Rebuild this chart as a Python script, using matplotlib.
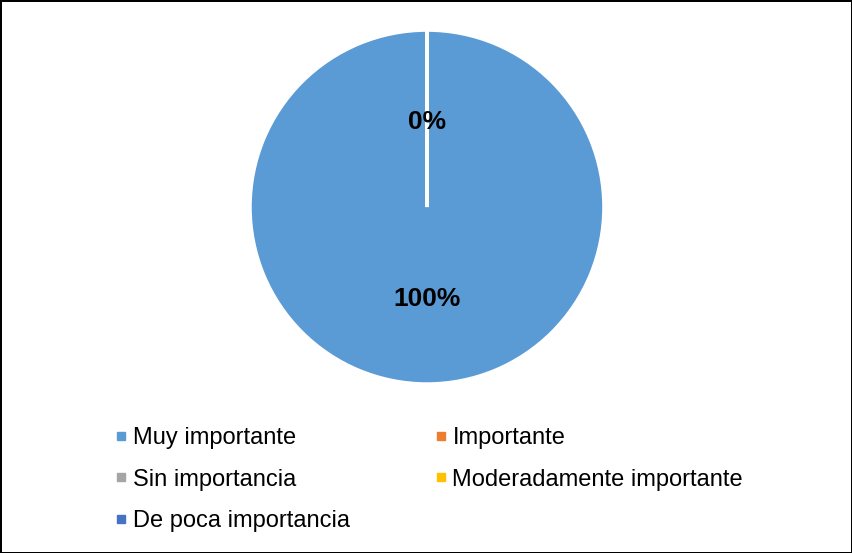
import matplotlib.pyplot as plt
from matplotlib.lines import Line2D

plt.rcParams['font.family'] = ['Liberation Sans', 'DejaVu Sans']

categorias = ['Muy importante', 'Importante', 'Sin importancia',
              'Moderadamente importante', 'De poca importancia']
valores = [100, 0, 0, 0, 0]
colores = ['#5B9BD5', '#ED7D31', '#A5A5A5', '#FFC000', '#4472C4']

fig = plt.figure(figsize=(8.52, 5.53), dpi=100)
fig.patch.set_edgecolor('black')
fig.patch.set_linewidth(2)

ax = fig.add_axes([0.2934, 0.3056, 0.4155, 0.640])
wedges, texts, autotexts = ax.pie(valores, colors=colores, startangle=90,
                                  counterclock=False, autopct='%1.0f%%',
                                  pctdistance=0.5,
                                  wedgeprops=dict(edgecolor='white', linewidth=2.5))
ya_cero = False
for v, t in zip(valores, autotexts):
    t.set_fontsize(19)
    t.set_fontweight('bold')
    t.set_color('black')
    x, y = t.get_position()
    t.set_position((x, y - 0.017))
    # the zero slices all sit on the same spot; keep one label
    if v == 0:
        if ya_cero:
            t.set_visible(False)
        ya_cero = True
ax.set_xlim(-1, 1)
ax.set_ylim(-1, 1)
ax.set_aspect('equal')

# legend ordered row by row, as in the original
orden = [0, 2, 4, 1, 3]
handles = [Line2D([], [], marker='s', linestyle='none', markersize=5.5,
                  markerfacecolor=colores[i], markeredgecolor=colores[i])
           for i in orden]
labels = [categorias[i] for i in orden]
fig.legend(handles, labels, loc='upper left', bbox_to_anchor=(0.135, 0.228),
           ncol=2, frameon=False, fontsize=17, handlelength=0.5,
           handletextpad=0.25, columnspacing=3.6, labelspacing=0.83,
           borderaxespad=0, borderpad=0)

fig.savefig('out.png', dpi=100, edgecolor=fig.get_edgecolor())
